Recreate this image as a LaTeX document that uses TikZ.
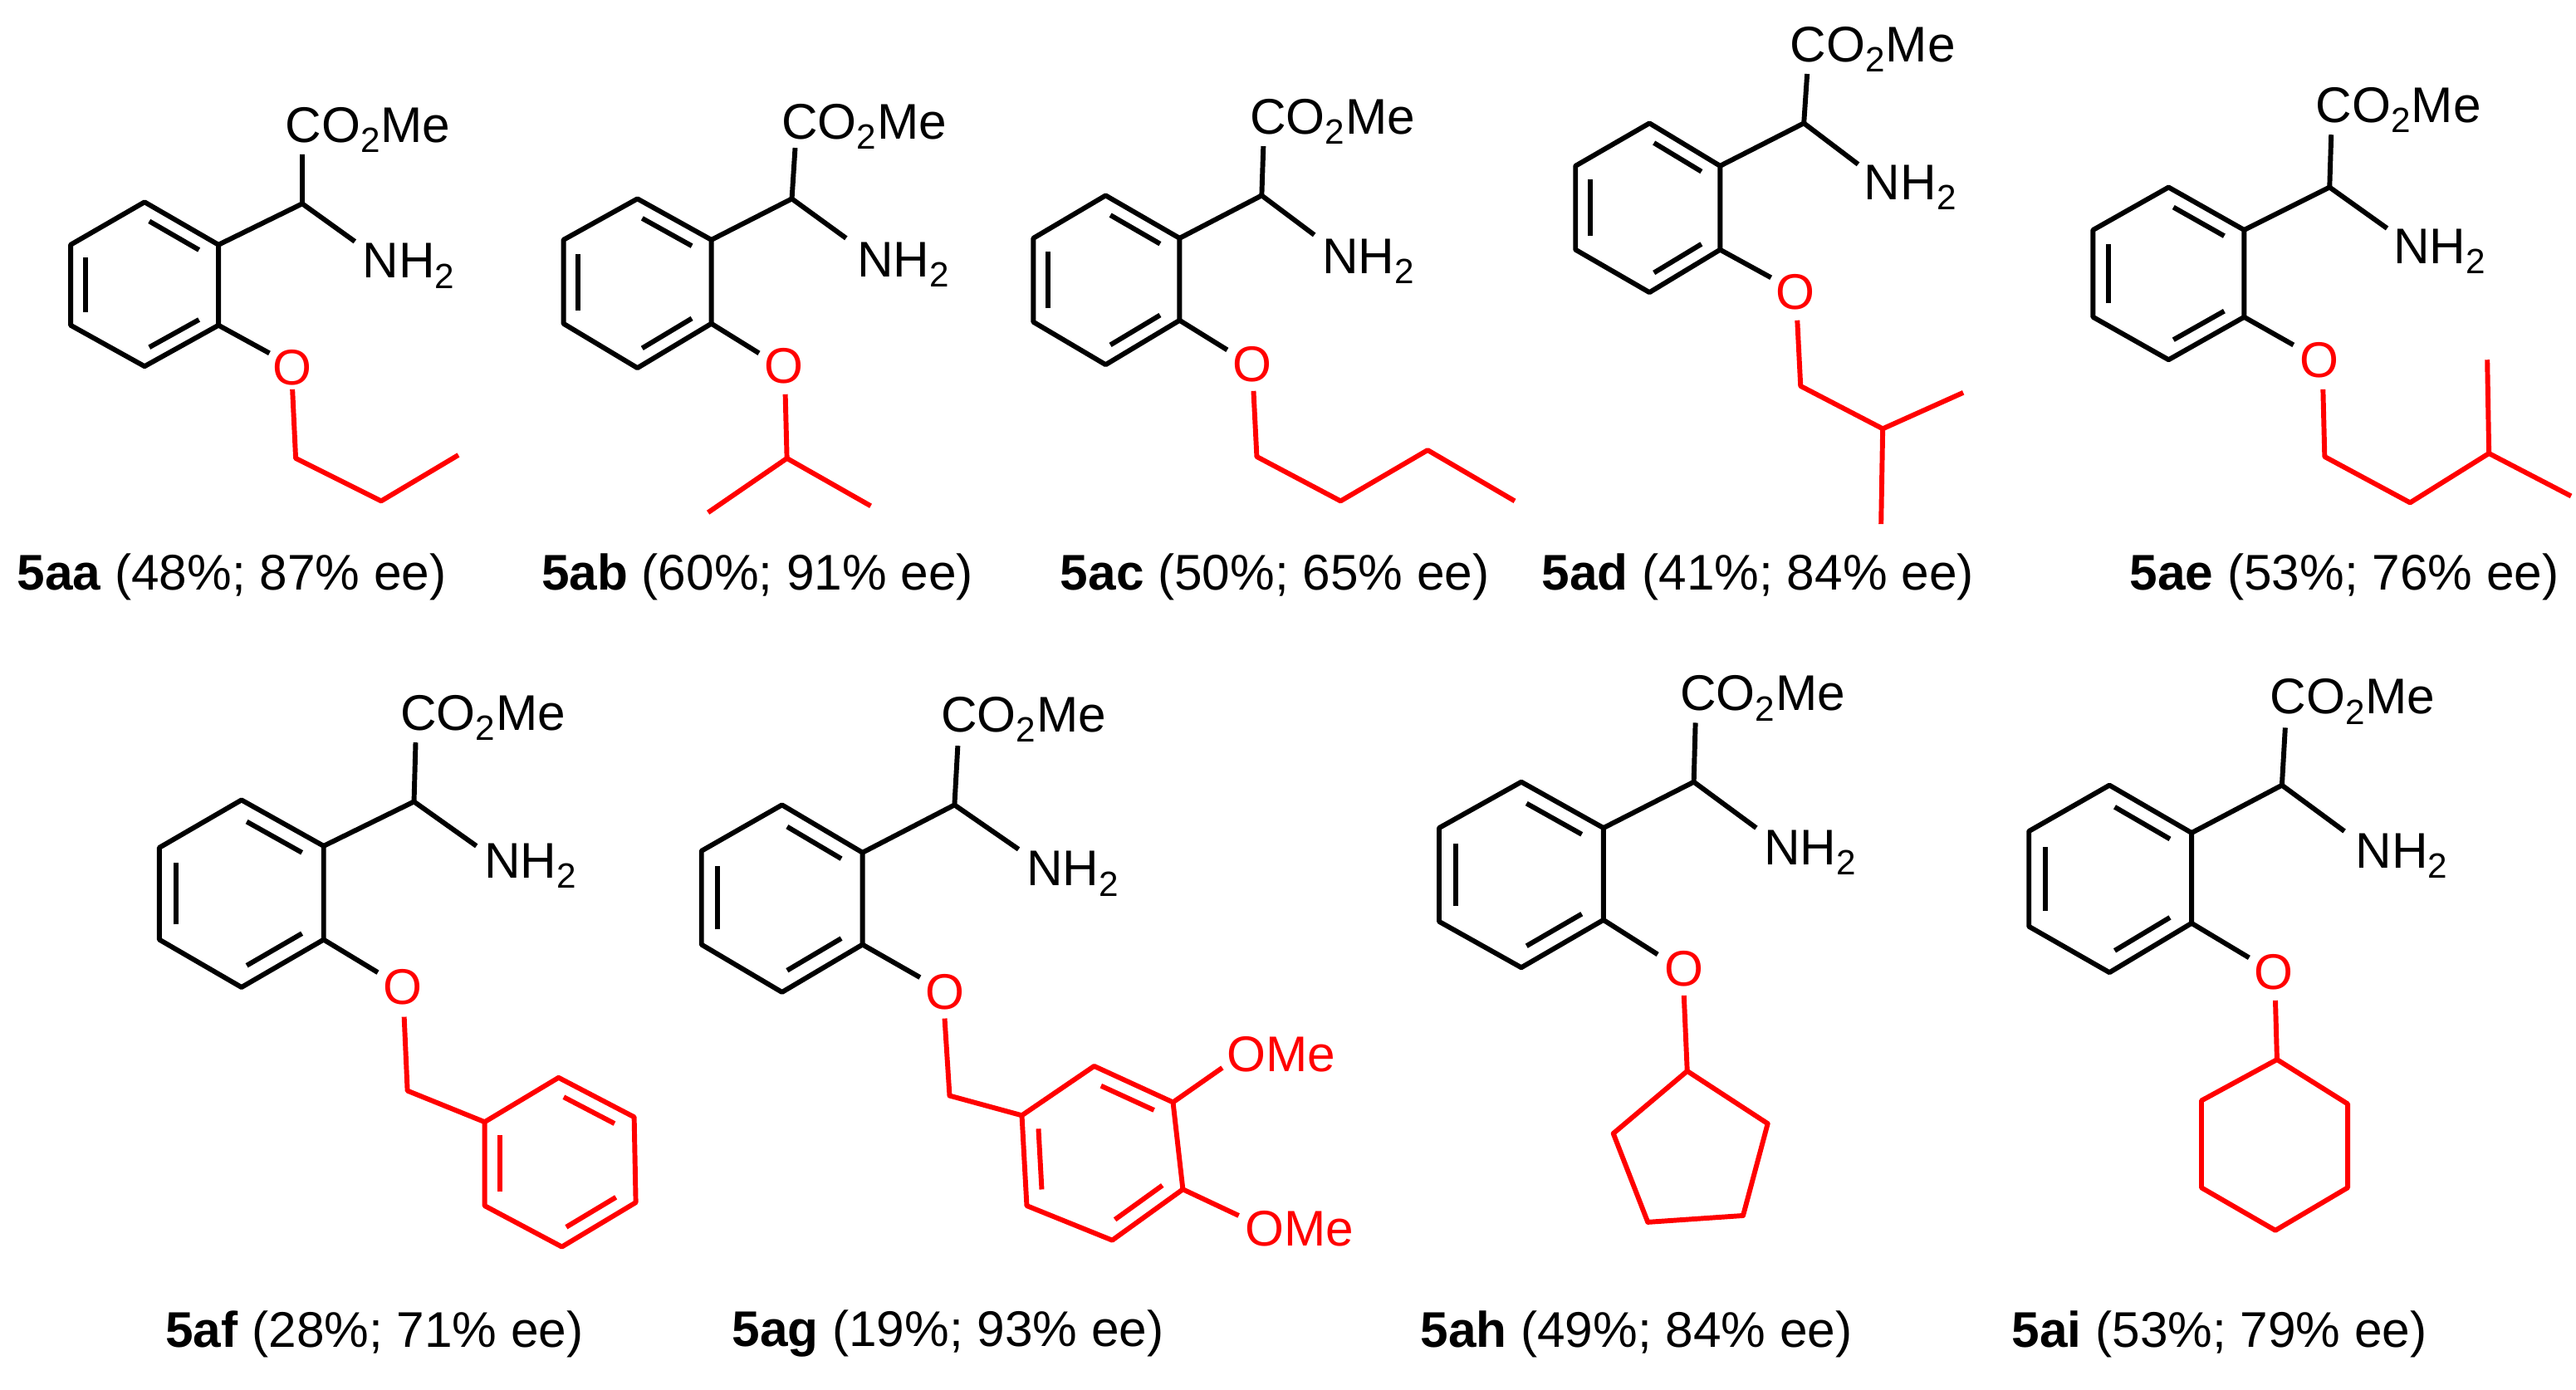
\documentclass[tikz,border=0pt]{standalone}
\usepackage{fontspec}
\setmainfont{Liberation Sans}
\usetikzlibrary{calc}
\tikzset{bond/.style={line width=3pt,line join=round},
 lbl/.style={font=\fontsize{30.5}{33}\selectfont,inner sep=0pt},
 rbond/.style={bond,red}}
\newcommand\inb[3]{\draw[bond] ($($(#1)!0.2!(#3)$)!0.08!($(#2)!0.2!(#3)$)$)--($($(#2)!0.2!(#3)$)!0.08!($(#1)!0.2!(#3)$)$);}
\newcommand\mring[7]{%
 \coordinate (#1a) at #2; \coordinate (#1b) at #3; \coordinate (#1c) at #4;
 \coordinate (#1d) at #5; \coordinate (#1e) at #6; \coordinate (#1f) at #7;
 \coordinate (#1z) at ($(#1a)!0.5!(#1d)$);
 \draw[bond] (#1a)--(#1b)--(#1c)--(#1d)--(#1e)--(#1f)--cycle;
 \inb{#1a}{#1b}{#1z}\inb{#1c}{#1d}{#1z}\inb{#1e}{#1f}{#1z}}
% core: prefix, CH, CO2 bond top, CO2 text, NH2 end, NH2 text, O end, O center
\newcommand\core[8]{%
 \coordinate (#1ch) at #2; \coordinate (#1ct) at #3;
 \node[lbl] (#1co) at #4 {CO\textsubscript{2}Me};
 \coordinate (#1ne) at #5;
 \node[lbl] (#1nh) at #6 {NH\textsubscript{2}};
 \coordinate (#1oe) at #7;
 \node[lbl,red] (#1o) at #8 {O};
 \draw[bond] (#1b)--(#1ch)--(#1ct);
 \draw[bond] (#1ch)--(#1ne);
 \draw[bond] (#1c)--(#1oe);}
\begin{document}
\begin{tikzpicture}[x=1pt,y=-1pt]
\useasboundingbox (0,0) rectangle (1568,846);
% 5aa
\mring{A}{(88,123)}{(133,149)}{(133,198)}{(88,223)}{(43,198)}{(43,149)}
\core{A}{(184,124)}{(184,94)}{(224,79)}{(216,147)}{(249,162)}{(164,215)}{(178,224)}
\coordinate (Aos) at (178,237); \coordinate (A1) at (180,279); \coordinate (A2) at (232,305); \coordinate (A3) at (279,277);
\draw[rbond] (Aos)--(A1)--(A2)--(A3);
\node[lbl] (Al) at (141,351) {\textbf{5aa} (48\%; 87\% ee)};
% 5ab
\mring{B}{(388,121)}{(433,146)}{(433,197)}{(388,224)}{(343,197)}{(343,146)}
\core{B}{(482,121)}{(484,90)}{(526,77)}{(515,145)}{(550,161)}{(462,215)}{(477,223)}
\coordinate (Bos) at (478,240); \coordinate (B1) at (479,279); \coordinate (B2) at (431,312); \coordinate (B3) at (530,308);
\draw[rbond] (Bos)--(B1)--(B2); \draw[rbond] (B1)--(B3);
\node[lbl] (Bl) at (461,351) {\textbf{5ab} (60\%; 91\% ee)};
% 5ac
\mring{C}{(673,119)}{(718,145)}{(718,195)}{(673,222)}{(629,196)}{(629,145)}
\core{C}{(768,119)}{(769,89)}{(811,74)}{(800,143)}{(833,159)}{(747,213)}{(762,222)}
\coordinate (Cos) at (763,238); \coordinate (C1) at (765,278); \coordinate (C2) at (816,305); \coordinate (C3) at (869,274); \coordinate (C4) at (922,305);
\draw[rbond] (Cos)--(C1)--(C2)--(C3)--(C4);
\node[lbl] (Cl) at (776,351) {\textbf{5ac} (50\%; 65\% ee)};
% 5ad
\mring{D}{(1004,75)}{(1047,101)}{(1047,152)}{(1004,178)}{(959,152)}{(959,101)}
\core{D}{(1098,75)}{(1100,45)}{(1140,30)}{(1131,100)}{(1163,114)}{(1078,169)}{(1093,178)}
\coordinate (Dos) at (1094,195); \coordinate (D1) at (1096,235); \coordinate (D2) at (1146,261); \coordinate (D3) at (1195,239); \coordinate (D4) at (1145,319);
\draw[rbond] (Dos)--(D1)--(D2)--(D3); \draw[rbond] (D2)--(D4);
\node[lbl] (Dl) at (1070,351) {\textbf{5ad} (41\%; 84\% ee)};
% 5ae
\mring{E}{(1320,114)}{(1366,140)}{(1366,193)}{(1320,219)}{(1274,193)}{(1274,140)}
\core{E}{(1418,114)}{(1419,82)}{(1460,67)}{(1453,139)}{(1485,153)}{(1396,210)}{(1412,219)}
\coordinate (Eos) at (1414,237); \coordinate (E1) at (1415,278); \coordinate (E2) at (1467,306); \coordinate (E3) at (1515,276); \coordinate (E4) at (1514,219); \coordinate (E5) at (1565,302);
\draw[rbond] (Eos)--(E1)--(E2)--(E3)--(E4); \draw[rbond] (E3)--(E5);
\node[lbl] (El) at (1427,351) {\textbf{5ae} (53\%; 76\% ee)};
% 5af
\mring{F}{(147,487)}{(197,515)}{(197,572)}{(147,601)}{(97,572)}{(97,516)}
\core{F}{(252,488)}{(253,452)}{(294,437)}{(290,515)}{(323,527)}{(230,592)}{(245,601)}
\coordinate (Fos) at (246,619); \coordinate (F1) at (248,664);
\begin{scope}[red]
\mring{FR}{(340,656)}{(386,680)}{(387,732)}{(342,759)}{(295,734)}{(295,683)}
\end{scope}
\draw[rbond] (Fos)--(F1)--(FRf);
\node[lbl] (Fl) at (228,812) {\textbf{5af} (28\%; 71\% ee)};
% 5ag
\mring{G}{(476,490)}{(525,519)}{(525,575)}{(476,604)}{(427,575)}{(427,518)}
\core{G}{(581,490)}{(583,454)}{(623,438)}{(620,517)}{(653,532)}{(560,595)}{(575,604)}
\coordinate (Gos) at (575,620); \coordinate (G1) at (578,667);
\begin{scope}[red]
\mring{GR}{(666,649)}{(714,671)}{(720,724)}{(677,755)}{(625,734)}{(622,679)}
\end{scope}
\draw[rbond] (Gos)--(G1)--(GRf);
\coordinate (Gm1) at (744,650); \coordinate (Gm2) at (754,740);
\node[lbl,red] (Gt1) at (780,642) {OMe};
\node[lbl,red] (Gt2) at (791,748) {OMe};
\draw[rbond] (GRb)--(Gm1); \draw[rbond] (GRc)--(Gm2);
\node[lbl] (Gl) at (577,812) {\textbf{5ag} (19\%; 93\% ee)};
% 5ah
\mring{H}{(926,476)}{(976,504)}{(976,560)}{(926,589)}{(876,561)}{(876,504)}
\core{H}{(1031,476)}{(1032,440)}{(1073,425)}{(1069,504)}{(1102,519)}{(1009,581)}{(1025,590)}
\coordinate (Hos) at (1025,606); \coordinate (H1) at (1027,652); \coordinate (H2) at (1076,684); \coordinate (H3) at (1061,740); \coordinate (H4) at (1003,744); \coordinate (H5) at (982,690);
\draw[rbond] (Hos)--(H1); \draw[rbond] (H1)--(H2)--(H3)--(H4)--(H5)--cycle;
\node[lbl] (Hl) at (996,812) {\textbf{5ah} (49\%; 84\% ee)};
% 5ai
\mring{I}{(1284,478)}{(1334,507)}{(1334,562)}{(1284,592)}{(1235,564)}{(1235,506)}
\core{I}{(1389,478)}{(1391,443)}{(1432,427)}{(1427,506)}{(1462,521)}{(1369,583)}{(1384,592)}
\coordinate (Ios) at (1385,609); \coordinate (I1) at (1386,645); \coordinate (I2) at (1429,672); \coordinate (I3) at (1429,723); \coordinate (I4) at (1385,749); \coordinate (I5) at (1340,723); \coordinate (I6) at (1340,670);
\draw[rbond] (Ios)--(I1); \draw[rbond] (I1)--(I2)--(I3)--(I4)--(I5)--(I6)--cycle;
\node[lbl] (Il) at (1351,812) {\textbf{5ai} (53\%; 79\% ee)};
\end{tikzpicture}
\end{document}
